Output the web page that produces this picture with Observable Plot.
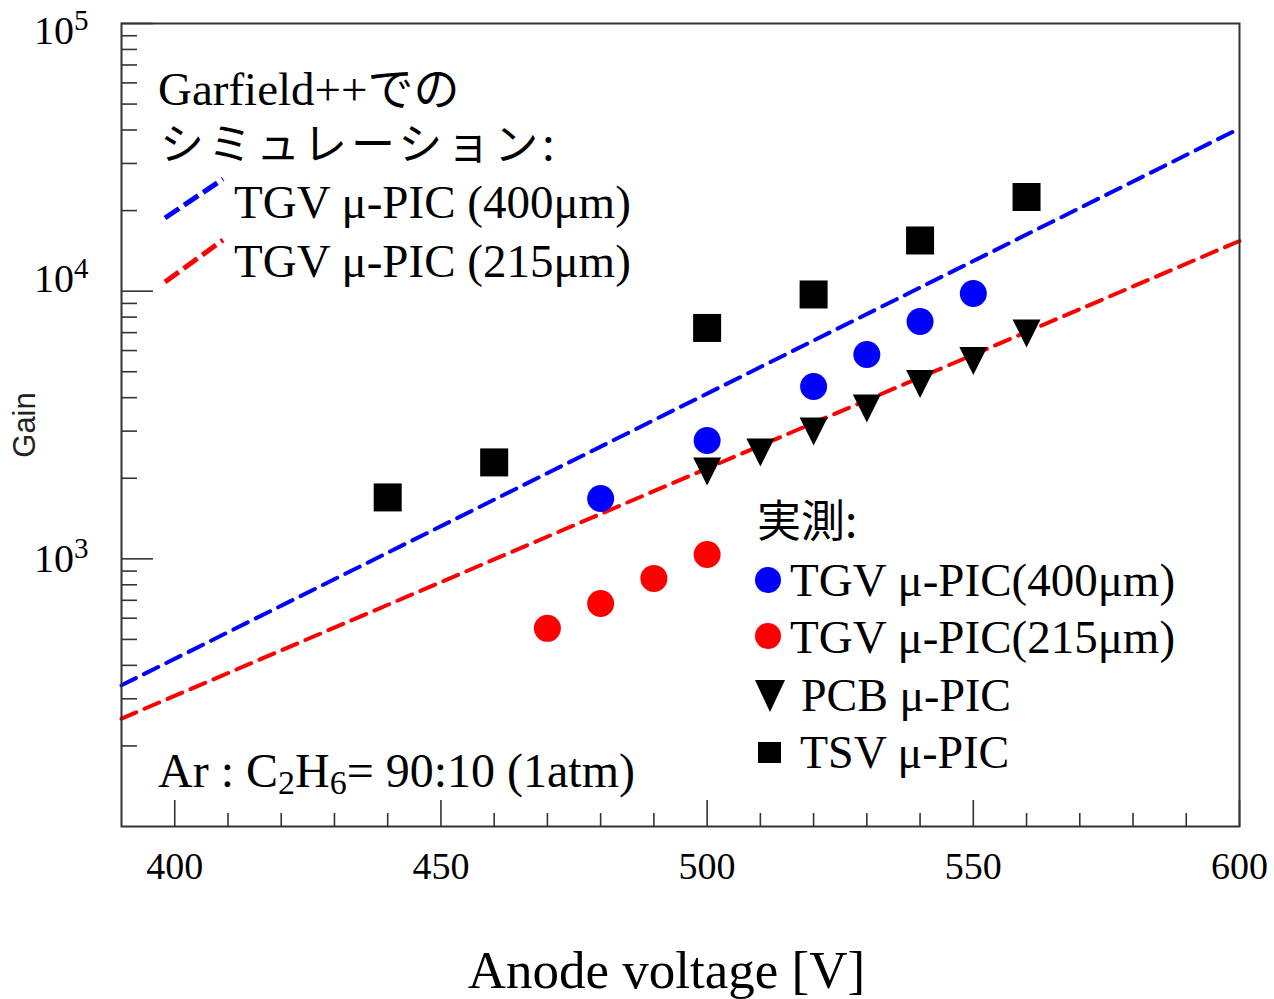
<!DOCTYPE html>
<html><head><meta charset="utf-8">
<script src="https://cdn.jsdelivr.net/npm/d3@7"></script>
<script src="https://cdn.jsdelivr.net/npm/@observablehq/plot@0.6"></script>
<style>html,body{margin:0;padding:0;background:#fff;} #chart svg{display:block}</style>
</head><body><div id="chart"></div>
<script>
// ---- data ----
const tsvVoltage = [440, 460, 500, 520, 540, 560];
const tsvGain    = [1696, 2292, 7288, 9720, 15465, 22480];
const tgv400Voltage = [480, 500, 520, 530, 540, 550];
const tgv400Gain    = [1681, 2769, 4406, 5800, 7705, 9804];
const tgv215Voltage = [470, 480, 490, 500];
const tgv215Gain    = [550, 681, 845, 1038];
const pcbVoltage = [500, 510, 520, 530, 540, 550, 560];
const pcbGain    = [2121, 2498, 2991, 3646, 4501, 5486, 6950];
const sim400Voltage = [390, 600];
const sim400Gain    = [337, 40540];
const sim215Voltage = [390, 600];
const sim215Gain    = [253, 15400];
const xTicksMajor = [400, 450, 500, 550, 600];
const xTicksMinor = [410, 420, 430, 440, 460, 470, 480, 490, 510, 520, 530, 540, 560, 570, 580, 590];
const yTicksMajor = [1000, 10000, 100000];
const yTicksMinor = [200, 300, 400, 500, 600, 700, 800, 900,
                     2000, 3000, 4000, 5000, 6000, 7000, 8000, 9000,
                     20000, 30000, 40000, 50000, 60000, 70000, 80000, 90000];

const zip = (xs, ys) => xs.map((v, i) => ({v, g: ys[i]}));
const tsv = zip(tsvVoltage, tsvGain);
const tgv400 = zip(tgv400Voltage, tgv400Gain);
const tgv215 = zip(tgv215Voltage, tgv215Gain);
const pcb = zip(pcbVoltage, pcbGain);
const sim400 = zip(sim400Voltage, sim400Gain);
const sim215 = zip(sim215Voltage, sim215Gain);

const triangleDown = {
  draw(ctx, size) {
    const r = Math.sqrt(size / Math.PI);
    ctx.moveTo(-r, -r); ctx.lineTo(r, -r); ctx.lineTo(0, r); ctx.closePath();
  }
};

const W = 1274, H = 999, mL = 121, mR = 35, mT = 23, mB = 173;
const innerW = W - mL - mR, innerH = H - mT - mB;
const serif = "'Liberation Serif', 'Noto Sans CJK JP', serif";
const axisColor = "#333";

const chart = Plot.plot({
  width: W, height: H,
  marginLeft: mL, marginRight: mR, marginTop: mT, marginBottom: mB,
  style: {fontFamily: serif, background: "white", overflow: "visible", color: "black"},
  x: {type: "linear", domain: [390, 600]},
  y: {type: "log", domain: [100, 100000]},
  marks: [
    Plot.line(sim400, {x: "v", y: "g", stroke: "#0000ff", strokeWidth: 4, strokeDasharray: "16,9"}),
    Plot.line(sim215, {x: "v", y: "g", stroke: "#ff0000", strokeWidth: 4, strokeDasharray: "16,9"}),
    Plot.dot(tsv, {x: "v", y: "g", symbol: "square", r: 15.8, fill: "black"}),
    Plot.dot(tgv400, {x: "v", y: "g", r: 13.5, fill: "#0000ff"}),
    Plot.dot(tgv215, {x: "v", y: "g", r: 13.5, fill: "#ff0000"}),
    Plot.dot(pcb, {x: "v", y: "g", symbol: triangleDown, r: 14, fill: "black"}),
    Plot.tickX(xTicksMajor, {x: d => d, insetTop: innerH - 26, stroke: axisColor, strokeWidth: 1.6}),
    Plot.tickX(xTicksMinor, {x: d => d, insetTop: innerH - 13, stroke: axisColor, strokeWidth: 1.6}),
    Plot.tickY(yTicksMajor, {y: d => d, insetRight: innerW - 32, stroke: axisColor, strokeWidth: 1.6}),
    Plot.tickY(yTicksMinor, {y: d => d, insetRight: innerW - 16, stroke: axisColor, strokeWidth: 1.6}),
    Plot.frame({stroke: axisColor, strokeWidth: 2}),
    Plot.axisX(xTicksMajor, {tickSize: 0, tickPadding: 26, fontSize: 38, label: null, tickFormat: d => String(d)}),
    Plot.axisY(yTicksMajor, {tickSize: 0, tickPadding: 33, fontSize: 40, label: null,
      tickFormat: d => "10^" + Math.round(Math.log10(d))}),
    Plot.text(["Gain"], {frameAnchor: "left", dx: -96, rotate: -90, text: d => d, textAnchor: "middle",
      fontFamily: "'Liberation Sans', Arial, sans-serif", fontSize: 31, fill: "#222"}),
    Plot.text(["Anode voltage [V]"], {frameAnchor: "bottom", dx: -14, dy: 145, text: d => d, lineAnchor: "middle",
      textAnchor: "middle", fontSize: 53})
  ]
});
document.getElementById("chart").appendChild(chart);

const svg = d3.select(chart);

// superscript exponents on the y tick labels (small vertical nudges as in the reference)
const labelNudge = {"3": 0, "4": -12, "5": 8};
svg.selectAll('g[aria-label="y-axis tick label"] text').each(function() {
  const t = d3.select(this);
  const s = t.text();
  const m = s.match(/^10\^(\d+)$/);
  if (!m) return;
  t.text(null);
  t.append("tspan").attr("dy", labelNudge[m[1]] || 0).text("10");
  t.append("tspan").attr("font-size", 29).attr("dy", -14).text(m[1]);
});

// ---- in-plot legends / annotations ----
const g = svg.append("g").attr("font-family", serif).attr("font-size", 47)
  .attr("fill", "black").attr("text-anchor", "start");
const cjk = "'Noto Sans CJK JP', sans-serif";

const gf = g.append("text").attr("x", 158).attr("y", 105);
gf.append("tspan").text("Garfield++");
gf.append("tspan").attr("font-family", cjk).attr("font-size", 46).text("での");
g.append("text").attr("x", 160).attr("y", 160).attr("font-family", cjk).attr("font-size", 44)
  .attr("letter-spacing", 4).text("シミュレーション:");
g.append("line").attr("x1", 165).attr("y1", 218).attr("x2", 223).attr("y2", 179)
  .attr("stroke", "#0000ff").attr("stroke-width", 5).attr("stroke-dasharray", "17,6");
g.append("text").attr("x", 234).attr("y", 218).text("TGV μ-PIC (400μm)");
g.append("line").attr("x1", 165).attr("y1", 282).attr("x2", 223).attr("y2", 240)
  .attr("stroke", "#ff0000").attr("stroke-width", 5).attr("stroke-dasharray", "17,6");
g.append("text").attr("x", 234).attr("y", 277).text("TGV μ-PIC (215μm)");

g.append("text").attr("x", 757).attr("y", 537).attr("font-family", cjk).attr("font-size", 44).text("実測:");
g.append("circle").attr("cx", 768).attr("cy", 580).attr("r", 13).attr("fill", "#0000ff");
g.append("text").attr("x", 790).attr("y", 596).text("TGV μ-PIC(400μm)");
g.append("circle").attr("cx", 768).attr("cy", 636).attr("r", 13).attr("fill", "#ff0000");
g.append("text").attr("x", 790).attr("y", 653).text("TGV μ-PIC(215μm)");
g.append("path").attr("d", "M755,680L785,680L770,712Z").attr("fill", "black");
g.append("text").attr("x", 801).attr("y", 711).attr("font-size", 46).text("PCB μ-PIC");
g.append("rect").attr("x", 758).attr("y", 742).attr("width", 23).attr("height", 21).attr("fill", "black");
g.append("text").attr("x", 800).attr("y", 768).attr("font-size", 46).text("TSV μ-PIC");

const ar = g.append("text").attr("x", 158).attr("y", 787).attr("font-size", 48);
ar.append("tspan").text("Ar : C");
ar.append("tspan").attr("font-size", 34).attr("dy", 7).text("2");
ar.append("tspan").attr("dy", -7).text("H");
ar.append("tspan").attr("font-size", 34).attr("dy", 7).text("6");
ar.append("tspan").attr("dy", -7).text("= 90:10 (1atm)");
</script>
</body></html>
